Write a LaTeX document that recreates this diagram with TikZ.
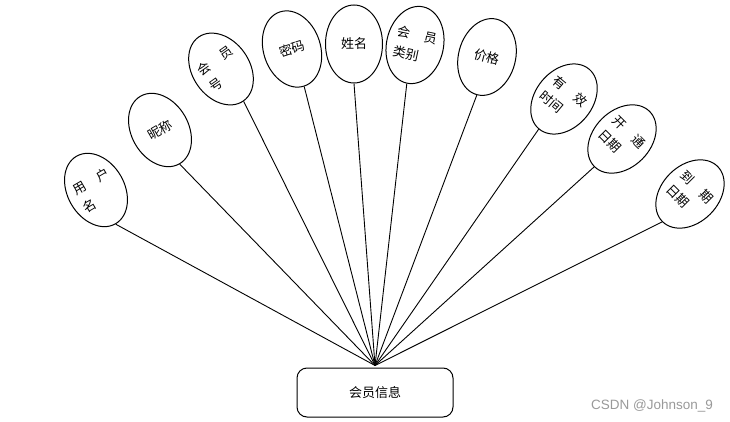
\documentclass[tikz,border=0pt]{standalone}
\usepackage{fontspec}
\setmainfont{Noto Sans CJK SC}
\newfontfamily\wmfont{Liberation Sans}
\usetikzlibrary{shapes.geometric}

\tikzset{
  attr/.style={ellipse, draw, line width=1pt, minimum width=57pt, minimum height=78pt,
               inner sep=0pt, align=left, font=\fontsize{13pt}{20pt}\selectfont},
  entity/.style={draw, line width=1pt, rounded corners=10pt, minimum width=156pt,
                 minimum height=49pt, font=\fontsize{13pt}{16pt}\selectfont},
  link/.style={line width=0.9pt}
}

\begin{document}
\begin{tikzpicture}[x=1pt, y=-1pt]
  \useasboundingbox (0,0) rectangle (730,422);
  % entity
  \node[entity] (info) at (375,392.5) {会员信息};
  \coordinate (hub) at ([yshift=2pt]info.north);
  % attributes
  \foreach \nm/\cx/\cy/\ang/\txt in {
      yhm/96/190/30/{用\hspace{1.1em}户\\名},
      nc/160/130/30/{昵称},
      hyh/221/69/35/{会\hspace{1.1em}员\\号},
      mm/292/49/18/{密码},
      xm/354/44/0/{姓名},
      hylb/415/45/-12/{会\hspace{1.1em}员\\类别},
      jg/487/57/-15/{价格},
      yxsj/564/99/-40/{有\hspace{1.1em}效\\时间},
      ktrq/622/139/-45/{开\hspace{1.1em}通\\日期},
      dqrq/690/194/-45/{到\hspace{1.1em}期\\日期}}{
    \node[attr, rotate=\ang] (\nm) at (\cx,\cy) {\txt};
    \draw[link] (\nm.south) -- (hub);
  }
  % watermark
  \node[text=black!40, font=\wmfont\fontsize{13.5pt}{15pt}\selectfont] (wm) at (652,406) {CSDN @Johnson\_9};
\end{tikzpicture}
\end{document}
